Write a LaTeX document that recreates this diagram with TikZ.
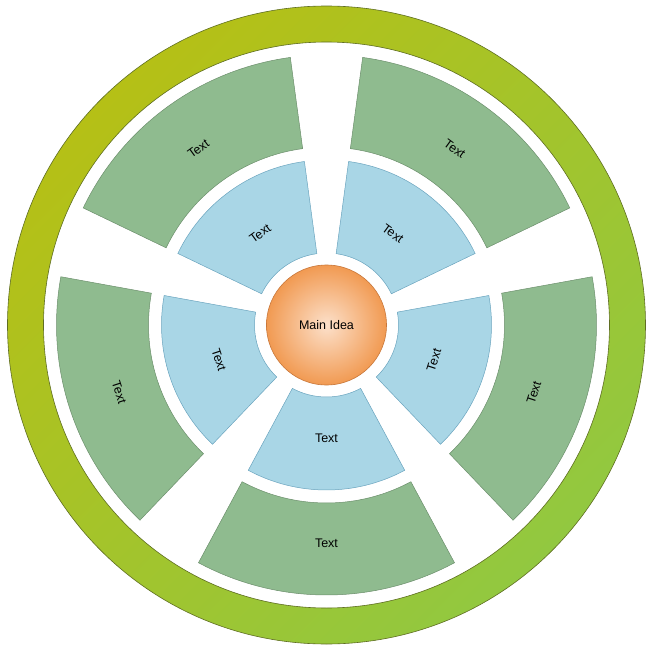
\documentclass[tikz,border=0pt]{standalone}
\usepackage{fontspec}
\setmainfont{Liberation Sans}
\usepackage{xcolor}
\usepackage{tikz}
\usetikzlibrary{shadings}
\definecolor{ringtop}{HTML}{B5C016}
\definecolor{ringbot}{HTML}{92C840}
\definecolor{ringedge}{HTML}{5F6E22}
\definecolor{sectgreen}{HTML}{8FBB8F}
\definecolor{sectgreenedge}{HTML}{6C8F6C}
\definecolor{sectblue}{HTML}{A9D6E6}
\definecolor{sectblueedge}{HTML}{6AA4BE}
\definecolor{ideain}{HTML}{FCE0CA}
\definecolor{ideaout}{HTML}{F19A52}
\definecolor{ideaedge}{HTML}{C8773A}
\tikzset{
  ring/.style={even odd rule, top color=ringtop, bottom color=ringbot, shading angle=45},
  ringline/.style={draw=ringedge, line width=0.6pt},
  greensec/.style={draw=sectgreenedge, fill=sectgreen, line width=0.5pt},
  bluesec/.style={draw=sectblueedge, fill=sectblue, line width=0.5pt},
  mainidea/.style={circle, minimum size=120pt, inner sep=0pt, draw=ideaedge,
                   line width=0.6pt, inner color=ideain, outer color=ideaout,
                   font=\fontsize{12.5}{14}\selectfont},
  lbl/.style={font=\fontsize{12.5}{14}\selectfont, text=black, inner sep=0pt},
}

\begin{document}
\begin{tikzpicture}
  \useasboundingbox (-326.5pt,-324pt) rectangle (327.5pt,325pt);

  % Outer ring
  \shade[ring] (0,0) circle (319pt) (0,0) circle (283pt);
  \draw[ringline] (0,0) circle (319pt);
  \draw[ringline] (0,0) circle (283pt);

  % Sectors
  \foreach \a/\r [count=\i] in {54/-36, 126/36, 198/-72, 270/0, 342/72} {
    \draw[greensec] (\a-28.3:178pt) arc[start angle=\a-28.3, end angle=\a+28.3, radius=178pt]
      -- (\a+28.3:270pt) arc[start angle=\a+28.3, end angle=\a-28.3, radius=270pt] -- cycle;
    \draw[bluesec] (\a-28.3:72pt) arc[start angle=\a-28.3, end angle=\a+28.3, radius=72pt]
      -- (\a+28.3:165pt) arc[start angle=\a+28.3, end angle=\a-28.3, radius=165pt] -- cycle;
    \node[lbl, rotate=\r] (green\i) at (\a:218pt) {Text};
    \node[lbl, rotate=\r] (blue\i) at (\a:113pt) {Text};
  }

  % Centre
  \node[mainidea] (main) at (0,0) {Main Idea};
\end{tikzpicture}
\end{document}
